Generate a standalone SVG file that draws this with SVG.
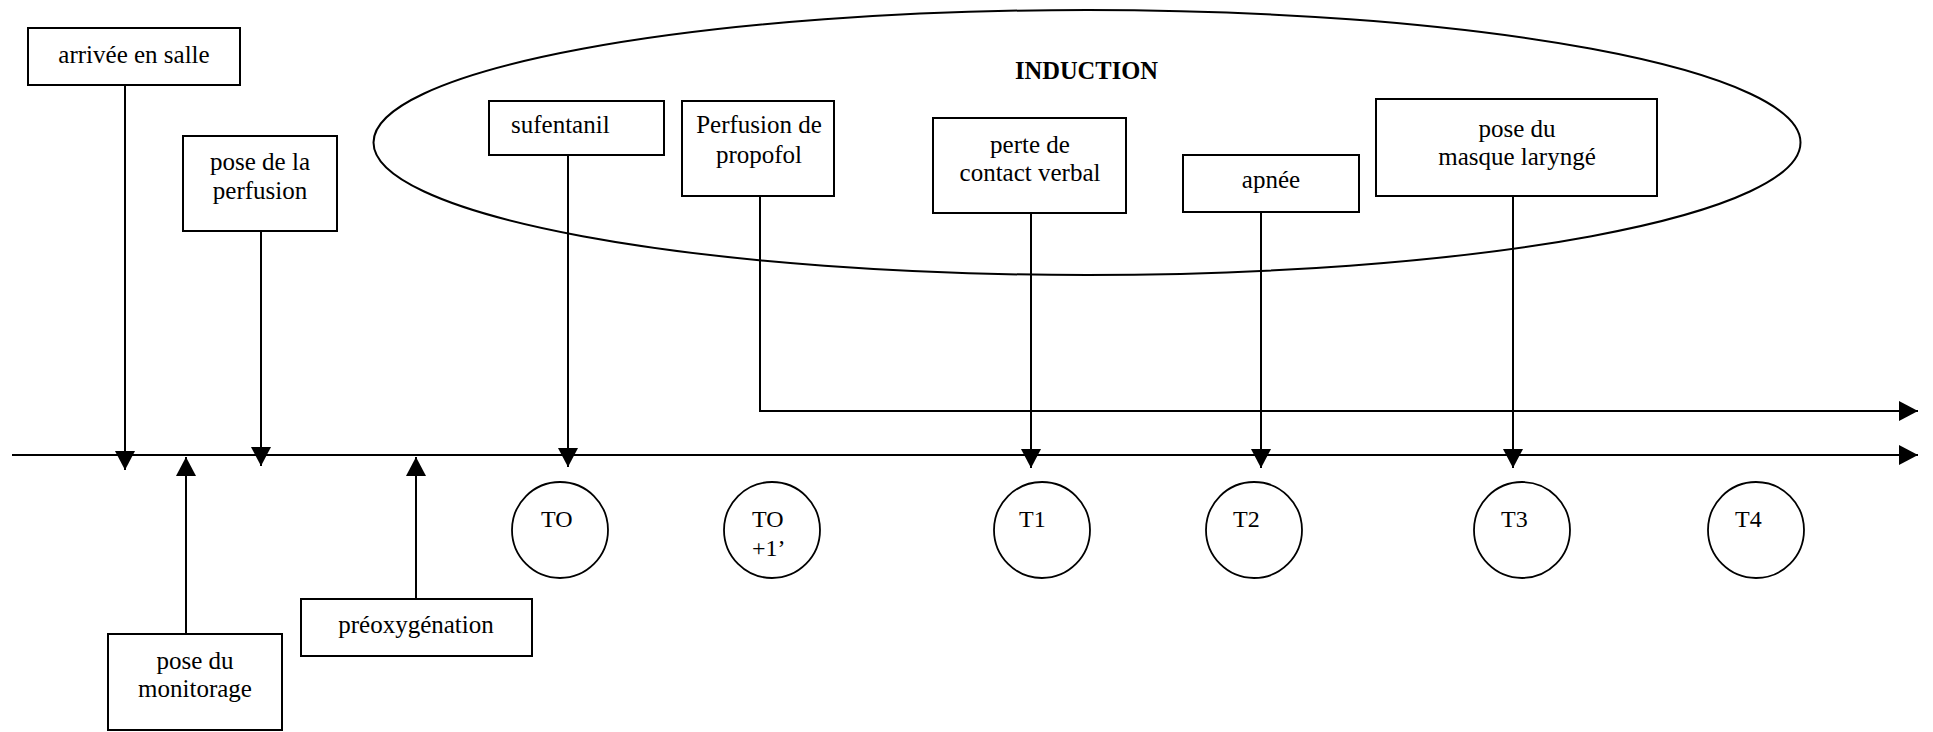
<svg xmlns="http://www.w3.org/2000/svg" width="1933" height="732" viewBox="0 0 1933 732">
<style>
  .box { fill: #fff; stroke: #000; stroke-width: 2; }
  .circ { fill: #fff; stroke: #000; stroke-width: 1.8; }
  .t { font-family: "Liberation Serif", "Times New Roman", serif; font-size: 25px; fill: #000; text-anchor: middle; }
  .tl { font-family: "Liberation Serif", "Times New Roman", serif; font-size: 25px; fill: #000; }
  .ct { font-family: "Liberation Serif", "Times New Roman", serif; font-size: 24px; fill: #000; }
  .title { font-family: "Liberation Serif", "Times New Roman", serif; font-size: 24.5px; font-weight: bold; fill: #000; }
  .ln { fill: none; stroke: #000; stroke-width: 2; }
</style>
<defs>
  <marker id="ah" markerUnits="userSpaceOnUse" markerWidth="20" markerHeight="20" refX="19" refY="10" orient="auto">
    <path d="M0,0 L19,10 L0,20 z" fill="#000"/>
  </marker>
</defs>
<rect width="1933" height="732" fill="#fff"/>

<g id="induction">
  <ellipse cx="1087" cy="142.5" rx="713.5" ry="132.5" fill="none" stroke="#000" stroke-width="2"/>
  <text class="title" x="1015" y="79">INDUCTION</text>
</g>

<g id="connectors">
  <line class="ln" x1="12" y1="455" x2="1918" y2="455" marker-end="url(#ah)"/>
  <path class="ln" d="M760,196 V411 H1918" marker-end="url(#ah)"/>
  <line class="ln" x1="125" y1="85" x2="125" y2="470" marker-end="url(#ah)"/>
  <line class="ln" x1="261" y1="231" x2="261" y2="466" marker-end="url(#ah)"/>
  <line class="ln" x1="186" y1="634" x2="186" y2="457" marker-end="url(#ah)"/>
  <line class="ln" x1="416" y1="599" x2="416" y2="457" marker-end="url(#ah)"/>
  <line class="ln" x1="568" y1="155" x2="568" y2="467" marker-end="url(#ah)"/>
  <line class="ln" x1="1031" y1="213" x2="1031" y2="468" marker-end="url(#ah)"/>
  <line class="ln" x1="1261" y1="212" x2="1261" y2="468" marker-end="url(#ah)"/>
  <line class="ln" x1="1513" y1="196" x2="1513" y2="468" marker-end="url(#ah)"/>
</g>

<g id="arrivee">
  <rect class="box" x="28" y="28" width="212" height="57"/>
  <text class="t" x="134" y="63">arrivée en salle</text>
</g>
<g id="perfusion">
  <rect class="box" x="183" y="136" width="154" height="95"/>
  <text class="t" x="260" y="170">pose de la</text>
  <text class="t" x="260" y="199">perfusion</text>
</g>
<g id="monitorage">
  <rect class="box" x="108" y="634" width="174" height="96"/>
  <text class="t" x="195" y="669">pose du</text>
  <text class="t" x="195" y="697">monitorage</text>
</g>
<g id="preoxygenation">
  <rect class="box" x="301" y="599" width="231" height="57"/>
  <text class="t" x="416" y="633">préoxygénation</text>
</g>
<g id="sufentanil">
  <rect class="box" x="489" y="101" width="175" height="54"/>
  <text class="tl" x="511" y="133">sufentanil</text>
</g>
<g id="propofol">
  <rect class="box" x="682" y="101" width="152" height="95"/>
  <text class="t" x="759" y="133">Perfusion de</text>
  <text class="t" x="759" y="163">propofol</text>
</g>
<g id="perte">
  <rect class="box" x="933" y="118" width="193" height="95"/>
  <text class="t" x="1030" y="153">perte de</text>
  <text class="t" x="1030" y="181">contact verbal</text>
</g>
<g id="apnee">
  <rect class="box" x="1183" y="155" width="176" height="57"/>
  <text class="t" x="1271" y="188">apnée</text>
</g>
<g id="masque">
  <rect class="box" x="1376" y="99" width="281" height="97"/>
  <text class="t" x="1517" y="137">pose du</text>
  <text class="t" x="1517" y="165">masque laryngé</text>
</g>

<g id="T0">
  <circle class="circ" cx="560" cy="530" r="48"/>
  <text class="ct" x="541" y="527">TO</text>
</g>
<g id="T0plus1">
  <circle class="circ" cx="772" cy="530" r="48"/>
  <text class="ct" x="752" y="527">TO</text>
  <text class="ct" x="752" y="556">+1’</text>
</g>
<g id="T1">
  <circle class="circ" cx="1042" cy="530" r="48"/>
  <text class="ct" x="1019" y="527">T1</text>
</g>
<g id="T2">
  <circle class="circ" cx="1254" cy="530" r="48"/>
  <text class="ct" x="1233" y="527">T2</text>
</g>
<g id="T3">
  <circle class="circ" cx="1522" cy="530" r="48"/>
  <text class="ct" x="1501" y="527">T3</text>
</g>
<g id="T4">
  <circle class="circ" cx="1756" cy="530" r="48"/>
  <text class="ct" x="1735" y="527">T4</text>
</g>
</svg>
